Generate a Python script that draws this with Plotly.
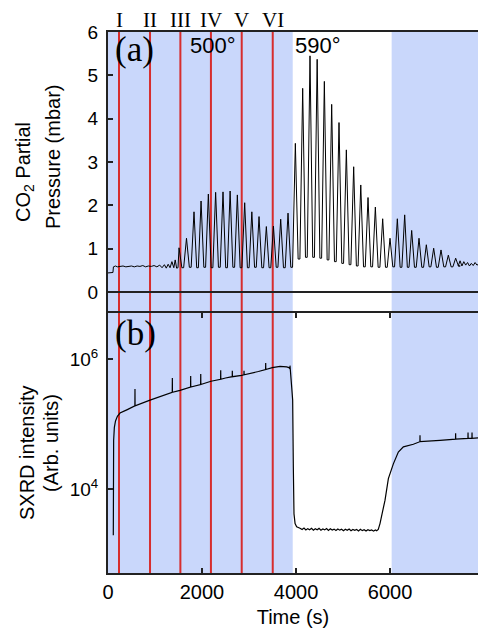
import plotly.graph_objects as go
from plotly.subplots import make_subplots

# ---- (a) CO2 partial pressure (mbar) ----
# quiet baseline before the gas pulses start
base_t = [0, 60, 105, 115, 160, 200, 260, 320, 380, 440, 500, 560, 620, 680, 740,
          800, 860, 920, 980, 1040, 1100, 1150, 1200, 1240, 1280, 1320, 1360, 1400,
          1430, 1460, 1490]
base_p = [0.44, 0.45, 0.45, 0.58, 0.60, 0.58, 0.59, 0.60, 0.58, 0.59, 0.60, 0.58,
          0.60, 0.59, 0.61, 0.58, 0.60, 0.59, 0.61, 0.58, 0.62, 0.56, 0.63, 0.55,
          0.64, 0.56, 0.70, 0.56, 0.74, 0.55, 0.56]

# pulse maxima
peak_t = [1511, 1670, 1830, 1980, 2135, 2290, 2447, 2598, 2752, 2908, 3060, 3213,
          3369, 3520, 3674, 3830, 3986, 4142, 4298, 4450, 4603, 4759, 4915, 5071,
          5227, 5378, 5532, 5688, 5844, 6000, 6156, 6312, 6461, 6617, 6773, 6929,
          7085, 7241, 7397]
peak_p = [1.02, 1.24, 1.85, 2.10, 2.26, 2.30, 2.31, 2.33, 2.24, 2.06, 1.85, 1.74,
          1.51, 1.52, 1.68, 1.82, 3.43, 4.70, 5.45, 5.37, 4.86, 4.33, 3.91, 3.28,
          2.89, 2.47, 2.18, 1.96, 1.69, 1.24, 1.69, 1.78, 1.42, 1.24, 1.09, 1.01,
          0.97, 0.85, 0.78]
# minima following each pulse
trough_p = [0.56, 0.57, 0.56, 0.57, 0.56, 0.57, 0.56, 0.57, 0.56, 0.56, 0.57, 0.56,
            0.56, 0.57, 0.56, 0.57, 0.76, 0.80, 0.80, 0.78, 0.74, 0.70, 0.66, 0.63,
            0.60, 0.58, 0.58, 0.57, 0.57, 0.58, 0.57, 0.57, 0.57, 0.57, 0.58, 0.57,
            0.58, 0.58, 0.60]

# residual ripple at the end of the run
tail_t = [7450, 7490, 7530, 7570, 7610, 7650, 7690, 7730, 7770, 7810, 7850, 7880]
tail_p = [0.60, 0.72, 0.60, 0.70, 0.62, 0.68, 0.60, 0.66, 0.61, 0.68, 0.62, 0.64]

# ---- (b) SXRD intensity (arb. units) ----
sxrd_t = [113, 116, 120, 135, 160, 200, 255, 400, 572, 574, 576, 894, 1200, 1367,
          1369, 1371, 1532, 1757, 1759, 1761, 1971, 1973, 1975, 2191, 2396, 2398,
          2400, 2500, 2643, 2645, 2647, 2844, 2892, 2894, 2896, 3200, 3353, 3355,
          3357, 3496, 3660, 3801, 3850, 3870, 3872, 3874, 3880, 3908, 3929, 3943,
          3957, 3980, 4014, 4085, 4130, 4170, 4210, 4250, 4290, 4330, 4370, 4410,
          4450, 4490, 4530, 4570, 4610, 4650, 4690, 4730, 4770, 4810, 4850, 4890,
          4930, 4970, 5010, 5050, 5090, 5130, 5170, 5210, 5250, 5290, 5330, 5370,
          5410, 5450, 5490, 5530, 5570, 5610, 5650, 5690, 5716, 5750, 5787, 5840,
          5894, 5965, 6020, 6071, 6177, 6284, 6496, 6636, 6638, 6640, 7064, 7394,
          7396, 7398, 7658, 7660, 7662, 7743, 7745, 7747, 7872]
sxrd_i = [1.95e3, 2.0e4, 5.6e4, 8.9e4, 1.12e5, 1.32e5, 1.48e5, 1.66e5, 1.91e5,
          3.47e5, 1.91e5, 2.34e5, 2.82e5, 3.09e5, 5.13e5, 3.09e5, 3.31e5, 3.72e5,
          5.50e5, 3.72e5, 4.07e5, 5.89e5, 4.07e5, 4.57e5, 4.90e5, 6.76e5, 4.90e5,
          5.13e5, 5.37e5, 6.61e5, 5.37e5, 5.62e5, 5.75e5, 6.61e5, 5.75e5, 6.46e5,
          6.92e5, 8.71e5, 6.92e5, 7.41e5, 7.76e5, 7.59e5, 7.41e5, 7.08e5, 7.94e5,
          7.08e5, 6.76e5, 3.72e5, 2.34e5, 2.19e4, 4.17e3, 2.95e3, 2.63e3, 2.51e3,
          2.40e3, 2.52e3, 2.36e3, 2.47e3, 2.38e3, 2.50e3, 2.34e3, 2.46e3, 2.37e3,
          2.49e3, 2.33e3, 2.44e3, 2.36e3, 2.48e3, 2.32e3, 2.45e3, 2.35e3, 2.43e3,
          2.31e3, 2.44e3, 2.34e3, 2.42e3, 2.30e3, 2.41e3, 2.33e3, 2.43e3, 2.29e3,
          2.40e3, 2.32e3, 2.39e3, 2.28e3, 2.41e3, 2.30e3, 2.38e3, 2.27e3, 2.37e3,
          2.30e3, 2.36e3, 2.26e3, 2.35e3, 2.29e3, 2.40e3, 2.95e3, 4.47e3, 6.76e3,
          1.45e4, 2.0e4, 2.45e4, 3.72e4, 4.47e4, 4.90e4, 5.37e4, 6.76e4, 5.37e4,
          5.62e4, 5.89e4, 7.24e4, 5.89e4, 6.03e4, 7.41e4, 6.03e4, 6.03e4, 7.41e4,
          6.03e4, 6.17e4]

# measurement stages and temperature periods
stage_t = [234, 894, 1540, 2190, 2845, 3505]
stage_names = ["I", "II", "III", "IV", "V", "VI"]
shade_spans = [(0, 3930), (6035, 7900)]
x_max = 7872

# assemble the pulse train: baseline, then each pulse with a short flat floor
press_t = list(base_t)
press_p = list(base_p)
for k in range(len(peak_t)):
    press_t.append(peak_t[k])
    press_p.append(peak_p[k])
    nxt = peak_t[k + 1] if k + 1 < len(peak_t) else peak_t[k] + 156
    gap = nxt - peak_t[k]
    press_t += [peak_t[k] + 0.38 * gap, peak_t[k] + 0.62 * gap]
    press_p += [trough_p[k], trough_p[k]]
press_t += tail_t
press_p += tail_p

fig = make_subplots(rows=2, cols=1, shared_xaxes=False, vertical_spacing=0,
                    row_heights=[281, 260])

fig.add_trace(go.Scatter(x=press_t, y=press_p, mode="lines",
                         line=dict(color="black", width=1), showlegend=False),
              row=1, col=1)
fig.add_trace(go.Scatter(x=sxrd_t, y=sxrd_i, mode="lines",
                         line=dict(color="black", width=1.2), showlegend=False),
              row=2, col=1)

shade = "rgb(201,215,251)"
shapes = []
for x0, x1 in shade_spans:
    shapes.append(dict(type="rect", xref="x", yref="paper", x0=x0, x1=x1, y0=0, y1=1,
                       fillcolor=shade, line=dict(width=0), layer="below"))
for t in stage_t:
    shapes.append(dict(type="line", xref="x", yref="paper", x0=t, x1=t, y0=0, y1=1,
                       line=dict(color="rgb(215,45,45)", width=2), layer="below"))

sans = "Liberation Sans, Arial, sans-serif"
serif = "Liberation Serif, Times New Roman, serif"

ann = []
for t, name in zip(stage_t, stage_names):
    ann.append(dict(x=t, y=1, xref="x", yref="paper", text=name, showarrow=False,
                    xanchor="center", yanchor="bottom", yshift=-2,
                    font=dict(family=serif, size=21, color="black")))
ann.append(dict(x=100, y=5.585, xref="x", yref="y", text="(a)", showarrow=False,
                xanchor="left", yanchor="middle",
                font=dict(family=serif, size=35, color="black")))
ann.append(dict(x=100, y=6.4, xref="x", yref="y2", text="(b)", showarrow=False,
                xanchor="left", yanchor="middle",
                font=dict(family=serif, size=35, color="black")))
ann.append(dict(x=2240, y=5.68, xref="x", yref="y", text="500°", showarrow=False,
                xanchor="center", yanchor="middle",
                font=dict(family=sans, size=22, color="black")))
ann.append(dict(x=3930, y=5.68, xref="x", yref="y", text="590°", showarrow=False,
                xanchor="left", yanchor="middle",
                font=dict(family=sans, size=22, color="black")))
# y-axis titles, one line each
for txt, px, py in [("CO<sub>2</sub> Partial", 25, 172),
                    ("Pressure (mbar)", 53, 157),
                    ("SXRD intensity", 27, 453),
                    ("(Arb. units)", 51, 443)]:
    ann.append(dict(x=0, y=(573 - py) / 541, xref="paper", yref="paper", text=txt,
                    showarrow=False, textangle=-90, xanchor="center",
                    yanchor="middle", xshift=px - 108,
                    font=dict(family=sans, size=20, color="black")))

axis_col = "#222222"
fig.update_layout(
    width=478, height=628,
    margin=dict(l=108, r=0, t=32, b=55),
    paper_bgcolor="white", plot_bgcolor="rgba(0,0,0,0)",
    shapes=shapes, annotations=ann,
    font=dict(family=sans, color="black"),
)
fig.update_xaxes(range=[0, x_max], showgrid=False, zeroline=False,
                 showline=True, linecolor=axis_col, linewidth=2)
fig.update_xaxes(row=1, col=1, showticklabels=False, ticks="", side="top",
                 mirror=False)
fig.update_xaxes(row=2, col=1, tickvals=[0, 2000, 4000, 6000], ticks="inside",
                 ticklen=5, tickwidth=1.5, tickcolor=axis_col, mirror="ticks",
                 tickfont=dict(size=20),
                 title=dict(text="Time (s)", font=dict(size=20), standoff=10))
fig.update_yaxes(row=1, col=1, range=[-0.485, 6.0], tickvals=[0, 1, 2, 3, 4, 5, 6],
                 ticks="inside", ticklen=5, tickwidth=1.5, tickcolor=axis_col,
                 showgrid=False, showline=True, linecolor=axis_col, linewidth=2,
                 zeroline=True, zerolinecolor=axis_col, zerolinewidth=2,
                 tickfont=dict(size=19), ticklabelstandoff=4)
fig.update_yaxes(row=2, col=1, type="log", range=[2.71, 6.71],
                 tickvals=[1e4, 1e6], ticktext=["10<sup>4</sup>", "10<sup>6</sup>"],
                 ticks="inside", ticklen=5, tickwidth=1.5, tickcolor=axis_col,
                 showgrid=False, showline=True, linecolor=axis_col, linewidth=2,
                 zeroline=False, tickfont=dict(size=19), ticklabelstandoff=4)

fig.write_html("out.html")
